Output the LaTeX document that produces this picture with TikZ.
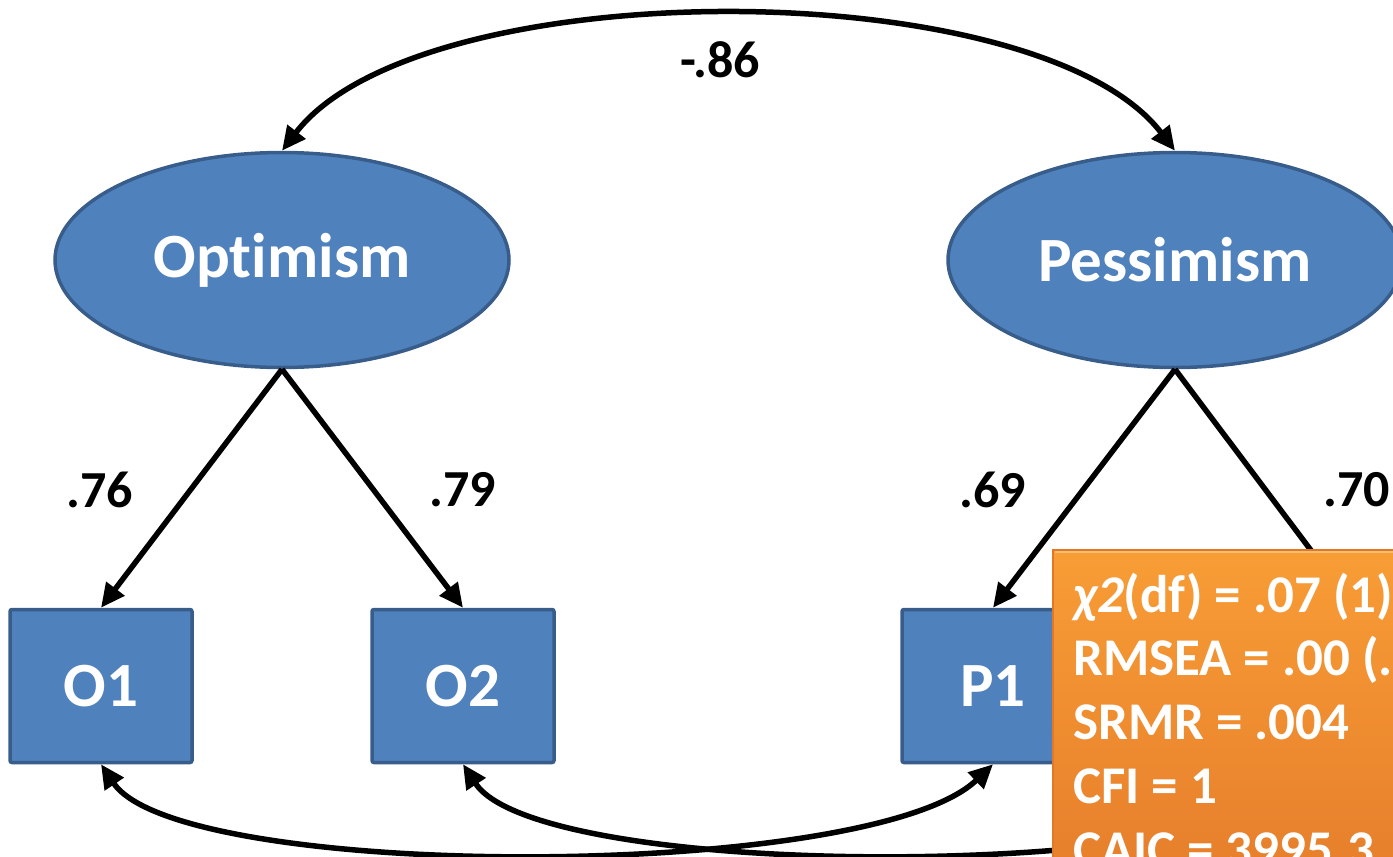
\documentclass[tikz,border=0pt]{standalone}
\usepackage{fontspec}
\setmainfont{Carlito}[Ligatures=NoCommon]
\usetikzlibrary{arrows.meta,shapes.geometric}
\definecolor{nodeblue}{HTML}{4F81BD}
\definecolor{nodeedge}{HTML}{385D8A}
\definecolor{orangetop}{RGB}{248,157,54}
\definecolor{orangebot}{RGB}{228,122,42}
\definecolor{orangeedge}{RGB}{226,120,36}
\definecolor{orangehi}{RGB}{251,190,112}
\begin{document}
\begin{tikzpicture}[x=1pt,y=-1pt,
  latent/.style={ellipse,draw=nodeedge,fill=nodeblue,line width=3.5pt,
    minimum width=454pt,minimum height=215pt,inner sep=0pt,
    text=white,font=\fontsize{63}{70}\selectfont\bfseries},
  observed/.style={rectangle,rounded corners=2pt,draw=nodeedge,fill=nodeblue,line width=3.5pt,
    minimum width=182pt,minimum height=153pt,inner sep=0pt,
    text=white,font=\fontsize{63}{70}\selectfont\bfseries},
  coef/.style={font=\fontsize{52}{60}\selectfont\bfseries,inner sep=0pt},
  fitline/.style={anchor=base west,inner sep=0pt,text=white,
    font=\fontsize{53}{64}\selectfont\bfseries},
  arr/.style={line width=5.5pt,arrows={-Triangle[length=24pt,width=22pt]}},
  dblarr/.style={line width=5.5pt,arrows={Triangle[length=24pt,width=22pt]-Triangle[length=24pt,width=22pt]}}]
\useasboundingbox (0,0) rectangle (1393,857);
\clip (0,0) rectangle (1393,857);

% latent variables
\node[latent] (opt) at (282,260) {Optimism};
\node[latent] (pes) at (1175,260) {Pessimism};

% observed variables
\node[observed] (o1) at (101,686) {O1};
\node[observed] (o2) at (463,686) {O2};
\node[observed] (p1) at (993,686) {P1};
\coordinate (p2t) at (1355,609);
\coordinate (p2b) at (1355,764);

% correlation between factors
\draw[dblarr] (opt.north) .. controls (420,-29) and (1037,-29) .. (pes.north);
\node[coef] (r) at (720,60) {-.86};

% loadings
\draw[arr] (opt.south) -- (o1.north);
\draw[arr] (opt.south) -- (o2.north);
\draw[arr] (pes.south) -- (p1.north);
\draw[arr] (pes.south) -- (p2t);
\node[coef] (l1) at (100,490) {.76};
\node[coef] (l2) at (463,490) {.79};
\node[coef] (l3) at (993,490) {.69};
\node[coef] (l4) at (1357,490) {.70};

% residual covariances
\draw[dblarr] (o1.south) .. controls (180,882) and (870,882) .. (p1.south);
\draw[dblarr] (o2.south) .. controls (540,882) and (1230,882) .. (p2b);

% fit index box
\shade[top color=orangetop,bottom color=orangebot,draw=orangeedge,line width=1.5pt]
  (1053,550) rectangle (1430,920);
\draw[orangehi,line width=2pt] (1055,552) -- (1430,552);
\node[fitline] (f1) at (1073,612) {\textit{χ2}(df) = .07 (1)};
\node[fitline] (f2) at (1073,675) {RMSEA = .00 (.};
\node[fitline] (f3) at (1073,739) {SRMR = .004};
\node[fitline] (f4) at (1073,803) {CFI = 1};
\node[fitline] (f5) at (1073,867) {CAIC = 3995.3};
\end{tikzpicture}
\end{document}
